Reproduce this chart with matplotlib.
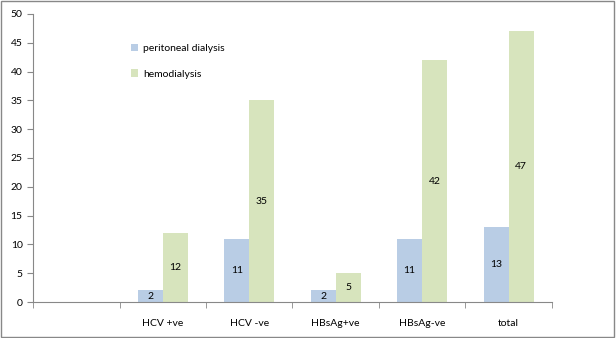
import numpy as np
import matplotlib.pyplot as plt
from matplotlib.patches import Rectangle

categories = ["", "HCV +ve", "HCV -ve", "HBsAg+ve", "HBsAg-ve", "total"]
peritoneal = [0, 2, 11, 2, 11, 13]
hemo = [0, 12, 35, 5, 42, 47]
show_label = [False, True, True, True, True, True]

blue = "#B9CDE5"
green = "#D7E4BD"

plt.rcParams['font.family'] = ['Lato', 'DejaVu Sans']

fig = plt.figure(figsize=(6.16, 3.38), dpi=100)
ax = fig.add_axes([0.0536, 0.1065, 0.8424, 0.8521])

x = np.arange(len(categories))
w = 0.29
b1 = ax.bar(x - w / 2, peritoneal, w, color=blue, label="peritoneal dialysis")
b2 = ax.bar(x + w / 2, hemo, w, color=green, label="hemodialysis")

for i in range(len(categories)):
    if not show_label[i]:
        continue
    ax.text(x[i] - w / 2, peritoneal[i] / 2, str(peritoneal[i]), ha='center', va='center', fontsize=7.5)
    ax.text(x[i] + w / 2, hemo[i] / 2, str(hemo[i]), ha='center', va='center', fontsize=7.5)

ax.set_xlim(-0.5, len(categories) - 0.5)
ax.set_ylim(0, 50)
ax.set_yticks(range(0, 51, 5))
ax.set_xticks(x)
ax.set_xticklabels(categories)
ax.set_xticks(np.arange(-0.5, len(categories), 1), minor=True)
ax.tick_params(axis='x', which='major', length=0, pad=12, labelsize=7.5)
ax.tick_params(axis='x', which='minor', length=4, color='#888888')
ax.tick_params(axis='y', length=4, color='#888888', labelsize=7.5)

for s in ['top', 'right']:
    ax.spines[s].set_visible(False)
for s in ['left', 'bottom']:
    ax.spines[s].set_color('#888888')

ax.legend(loc='upper left', bbox_to_anchor=(0.17, 0.93), frameon=False, fontsize=7.5,
          handlelength=0.7, handleheight=0.7, labelspacing=1.6, handletextpad=0.5)

fig.patches.append(Rectangle((0.002, 0.003), 0.995, 0.993, transform=fig.transFigure,
                             fill=False, edgecolor='#888888', linewidth=1))

fig.savefig("out.png", dpi=100)
